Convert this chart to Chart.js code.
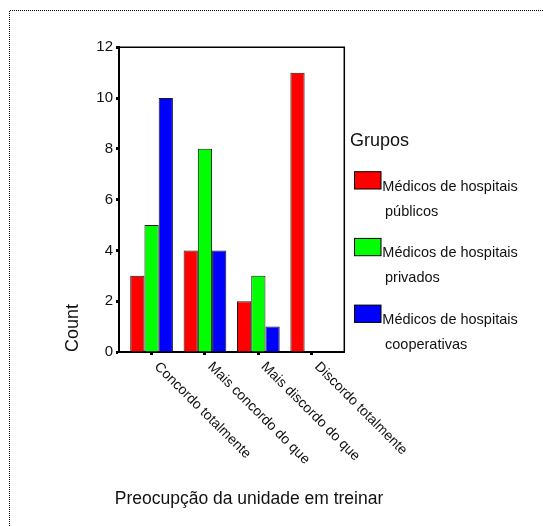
<!DOCTYPE html>
<html><head><meta charset="utf-8">
<script src="https://cdn.jsdelivr.net/npm/chart.js@4"></script>
<style>html,body{margin:0;padding:0;background:#fff}canvas{display:block}</style>
</head><body>
<canvas id="c" width="543" height="526"></canvas>
<script>
const categories = ["Concordo totalmente", "Mais concordo do que", "Mais discordo do que", "Discordo totalmente"];
const seriesNames = ["Médicos de hospitais públicos", "Médicos de hospitais privados", "Médicos de hospitais cooperativas"];
const legendLines = [["Médicos de hospitais", "públicos"], ["Médicos de hospitais", "privados"], ["Médicos de hospitais", "cooperativas"]];
const publicos = [3, 4, 2, 11];
const privados = [5, 8, 3, 0];
const cooperativas = [10, 4, 1, 0];
const yTicks = [0, 2, 4, 6, 8, 10, 12];
const seriesColors = ["#ff0000", "#00ff00", "#0000ff"];
const xTitle = "Preocupção da unidade em treinar";
const yTitle = "Count";
const legendTitle = "Grupos";

const FONT = '"Liberation Sans", Arial, Helvetica, sans-serif';
const TXT = '#111';

const seriesValues = [publicos, privados, cooperativas];
const catPos = categories.map((c, i) => i + 1);

const deco = {
  id: 'deco',
  beforeDraw(chart) {
    const ctx = chart.ctx;
    ctx.save();
    ctx.fillStyle = '#fff';
    ctx.fillRect(0, 0, chart.width, chart.height);
    ctx.strokeStyle = '#000';
    ctx.lineWidth = 1;
    ctx.setLineDash([1, 1]);
    ctx.beginPath();
    ctx.moveTo(9.5, chart.height);
    ctx.lineTo(9.5, 10.5);
    ctx.lineTo(chart.width, 10.5);
    ctx.stroke();
    ctx.restore();
  },
  afterDraw(chart) {
    const ctx = chart.ctx;
    const a = chart.chartArea;
    const xs = chart.scales.x;
    ctx.save();
    ctx.strokeStyle = '#000';
    ctx.lineWidth = 1.5;
    ctx.beginPath();
    ctx.moveTo(a.left, a.top);
    ctx.lineTo(a.right, a.top);
    ctx.lineTo(a.right, a.bottom);
    ctx.stroke();
    ctx.fillStyle = TXT;
    ctx.font = '14px ' + FONT;
    ctx.textAlign = 'left';
    ctx.textBaseline = 'middle';
    categories.forEach((c, i) => {
      const px = xs.getPixelForValue(catPos[i]);
      ctx.save();
      ctx.translate(px + 5, a.bottom + 12.5);
      ctx.rotate(Math.PI / 4);
      ctx.fillText(c, 0, 0);
      ctx.restore();
    });
    ctx.font = '17.5px ' + FONT;
    ctx.textAlign = 'center';
    ctx.textBaseline = 'alphabetic';
    ctx.fillText(xTitle, 249, 504);
    ctx.save();
    ctx.translate(78.3, a.bottom);
    ctx.rotate(-Math.PI / 2);
    ctx.font = '18px ' + FONT;
    ctx.textAlign = 'left';
    ctx.fillText(yTitle, 0, 0);
    ctx.restore();
    ctx.font = '18px ' + FONT;
    ctx.textAlign = 'left';
    ctx.fillText(legendTitle, 350, 145.7);
    chart.data.datasets.forEach((ds, i) => {
      const top = 171.7 + i * 66.7;
      ctx.fillStyle = ds.backgroundColor;
      ctx.fillRect(354.5, top, 26.5, 17.3);
      ctx.strokeStyle = '#000';
      ctx.lineWidth = 1;
      ctx.strokeRect(354.5, top, 26.5, 17.3);
      ctx.fillStyle = TXT;
      ctx.font = '14.5px ' + FONT;
      ctx.fillText(legendLines[i][0], 382.3, 190.7 + i * 66.5);
      ctx.fillText(legendLines[i][1], 385, 215.7 + i * 66.5);
    });
    ctx.restore();
  }
};

new Chart(document.getElementById('c'), {
  type: 'bar',
  data: {
    datasets: seriesValues.map((vals, i) => ({
      label: seriesNames[i],
      data: vals.map((v, j) => ({ x: catPos[j], y: v })),
      backgroundColor: seriesColors[i],
      borderColor: '#1a1a1a',
      borderWidth: 1,
      categoryPercentage: 0.8,
      barPercentage: 1.0
    }))
  },
  options: {
    responsive: false,
    animation: false,
    layout: { padding: { left: 0, top: 47.3, right: 198.7, bottom: 174 } },
    plugins: { legend: { display: false }, tooltip: { enabled: false }, title: { display: false } },
    scales: {
      x: {
        type: 'linear',
        offset: false,
        min: 0.39,
        max: 4.61,
        afterBuildTicks: s => { s.ticks = catPos.map(v => ({ value: v })); },
        afterFit: s => { s.height = 0; },
        ticks: { display: false },
        grid: { offset: false, drawOnChartArea: false, drawTicks: true, tickLength: 3, tickWidth: 3, tickColor: '#000' },
        border: { display: true, color: '#000', width: 2 }
      },
      y: {
        min: 0,
        max: 12,
        afterBuildTicks: s => { s.ticks = yTicks.map(v => ({ value: v })); },
        afterFit: s => { s.width = 119; },
        ticks: { color: TXT, font: { family: FONT, size: 15 }, padding: 3 },
        grid: { drawOnChartArea: false, drawTicks: true, tickLength: 3, tickWidth: 3, tickColor: '#000' },
        border: { display: true, color: '#000', width: 2 }
      }
    }
  },
  plugins: [deco]
});
</script>
</body></html>
